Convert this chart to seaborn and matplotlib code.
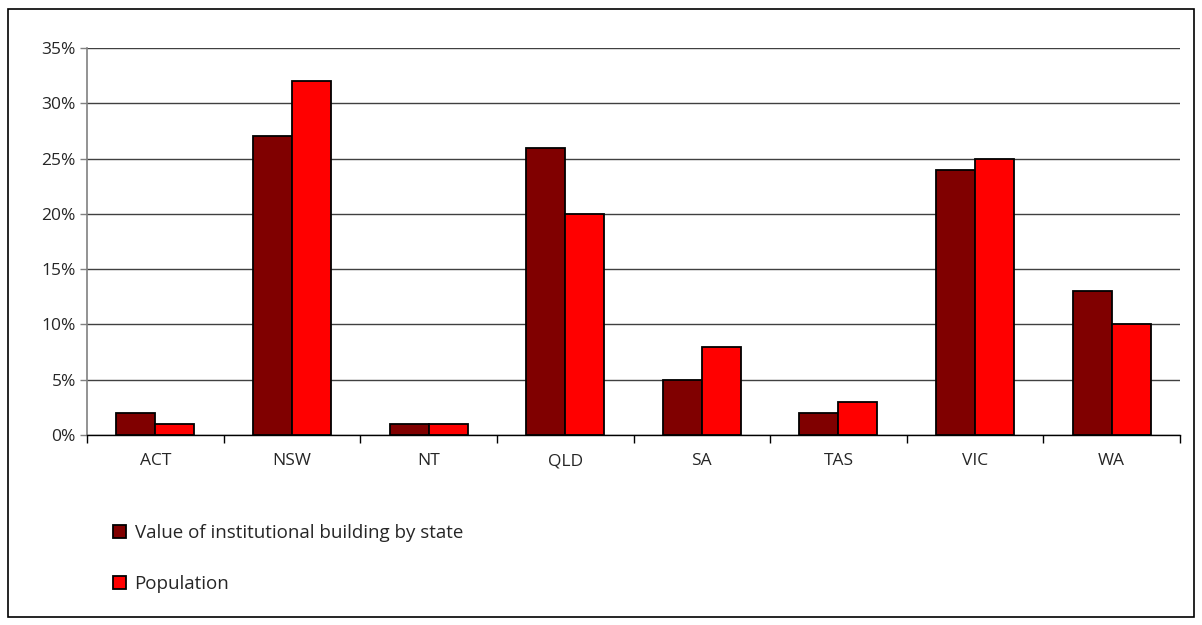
import pandas as pd
import matplotlib.pyplot as plt
import seaborn as sns
from matplotlib.patches import Rectangle
from matplotlib.ticker import FuncFormatter, FixedLocator

states = ['ACT', 'NSW', 'NT', 'QLD', 'SA', 'TAS', 'VIC', 'WA']
building_value = [2, 27, 1, 26, 5, 2, 24, 13]
population = [1, 32, 1, 20, 8, 3, 25, 10]
series_names = ['Value of institutional building by state', 'Population']
colors = ['#800000', '#ff0000']

df = pd.DataFrame({
    'state': states * 2,
    'value': building_value + population,
    'series': [series_names[0]] * len(states) + [series_names[1]] * len(states),
})

sns.set_style('white')
plt.rcParams['font.family'] = ['Open Sans', 'DejaVu Sans']

fig = plt.figure(figsize=(12.02, 6.25), dpi=100)
ax = fig.add_axes([87 / 1202, 1 - 435 / 625, (1180 - 87) / 1202, (435 - 48) / 625])

sns.barplot(data=df, x='state', y='value', hue='series', palette=colors, saturation=1,
            width=0.57, edgecolor='black', linewidth=1.3, ax=ax, zorder=3)

ax.set_ylim(0, 35)
ax.set_xlim(-0.5, len(states) - 0.5)
ax.set_yticks(range(0, 36, 5))
ax.yaxis.set_major_formatter(FuncFormatter(lambda v, p: f'{int(v)}%'))
ax.grid(axis='y', color='#404040', linewidth=1, zorder=0)
ax.set_xlabel('')
ax.set_ylabel('')

# x ticks between categories, labels centred
ax.xaxis.set_major_locator(FixedLocator([i - 0.5 for i in range(len(states) + 1)]))
ax.xaxis.set_major_formatter(FuncFormatter(lambda v, p: ''))
ax.xaxis.set_minor_locator(FixedLocator(range(len(states))))
ax.set_xticklabels(states, minor=True)
ax.tick_params(axis='x', which='major', direction='out', length=6, width=1, color='black', bottom=True)
ax.tick_params(axis='x', which='minor', length=0, pad=13, labelsize=12.5)
ax.tick_params(axis='y', direction='out', length=5, width=1, color='#808080', left=True, labelsize=12.5, pad=3)

for side in ['top', 'right']:
    ax.spines[side].set_visible(False)
ax.spines['left'].set_color('#808080')
ax.spines['left'].set_linewidth(1.2)
ax.spines['bottom'].set_color('black')
ax.spines['bottom'].set_linewidth(1)

handles, labels = ax.get_legend_handles_labels()
ax.legend_.remove()
fig.legend(handles, labels, loc='upper left', bbox_to_anchor=(0.08, 1 - 507 / 625),
           frameon=False, fontsize=13.5, labelspacing=1.75, handlelength=0.7,
           handleheight=0.7, handletextpad=0.45)

fig.patches.append(Rectangle((8 / 1202, 1 - 617 / 625), 1186 / 1202, 608 / 625,
                             transform=fig.transFigure, fill=False,
                             edgecolor='black', linewidth=1.2))

fig.savefig('out.png', dpi=100)
